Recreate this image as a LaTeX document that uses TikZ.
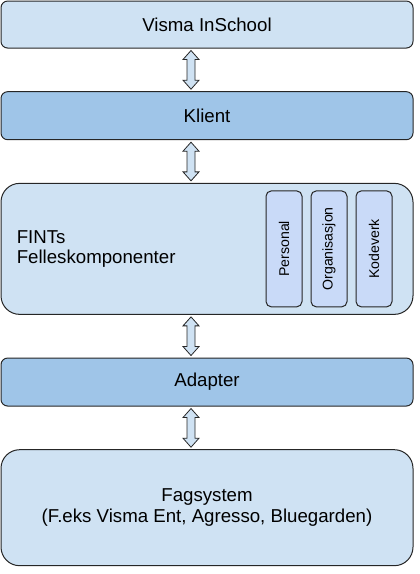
\documentclass[tikz,border=0pt]{standalone}
\usepackage{fontspec}
\setmainfont{Liberation Sans}
\usetikzlibrary{positioning,calc}

\definecolor{paleblue}{HTML}{CFE2F3}
\definecolor{midblue}{HTML}{9FC5E8}
\definecolor{lilacblue}{HTML}{C9DAF8}

\begin{document}
\begin{tikzpicture}[
        node distance=32pt,
        layer/.style={draw=black!85, line width=0.75pt, rounded corners=5pt, fill=paleblue, minimum width=309pt, align=center, font=\fontsize{14}{16}\selectfont},
        biglayer/.style={layer, rounded corners=14pt},
        module/.style={draw=black!85, line width=0.75pt, rounded corners=4pt, fill=lilacblue, minimum width=27pt, minimum height=87pt, inner sep=0pt, font=\fontsize{10.6}{12}\selectfont},
        dblarrow/.style={draw=black!85, line width=0.6pt, fill=paleblue,
            to path={let \p1=(\tikztostart), \p2=(\tikztotarget) in
                (\x1,\y1-1.5pt) -- (\x1+6pt,\y1-8.25pt) -- (\x1+3pt,\y1-8.25pt) -- (\x1+3pt,\y2+8.25pt)
                -- (\x1+6pt,\y2+8.25pt) -- (\x1,\y2+1.5pt) -- (\x1-6pt,\y2+8.25pt) -- (\x1-3pt,\y2+8.25pt)
                -- (\x1-3pt,\y1-8.25pt) -- (\x1-6pt,\y1-8.25pt) -- cycle}}
    ]
    \useasboundingbox (0,0) rectangle (315pt,-430.5pt);

    % Nodes
    \node (visma) [layer, minimum height=35.25pt] at (155.25pt,-18.4pt) {Visma InSchool};
    \node (klient) [below=of visma, layer, fill=midblue, minimum height=36pt] {Klient};
    \node (fints) [below=of klient, biglayer, minimum height=98.25pt] {};
    \node (fag) [below=of fints, layer, fill=midblue, minimum height=36pt] {Adapter};
    \node (system) [below=of fag, biglayer, minimum height=87pt] {Fagsystem \\ (F.eks Visma Ent, Agresso, Bluegarden)};

    \node (fintslabel) [right=12pt of fints.west, anchor=west, align=left, inner sep=0pt, font=\fontsize{14}{15}\selectfont] {FINTs \\ Felleskomponenter};
    \node (kodeverk) [left=15.75pt of fints.east, module] {\rotatebox{90}{Kodeverk}};
    \node (organisasjon) [left=6pt of kodeverk, module] {\rotatebox{90}{Organisasjon}};
    \node (personal) [left=6pt of organisasjon, module] {\rotatebox{90}{Personal}};

    % Edges
    \draw[dblarrow] ([xshift=-12pt]visma.south) to ([xshift=-12pt]klient.north);
    \draw[dblarrow] ([xshift=-12pt]klient.south) to ([xshift=-12pt]fints.north);
    \draw[dblarrow] ([xshift=-12pt]fints.south) to ([xshift=-12pt]fag.north);
    \draw[dblarrow] ([xshift=-12pt]fag.south) to ([xshift=-12pt]system.north);

\end{tikzpicture}
\end{document}
